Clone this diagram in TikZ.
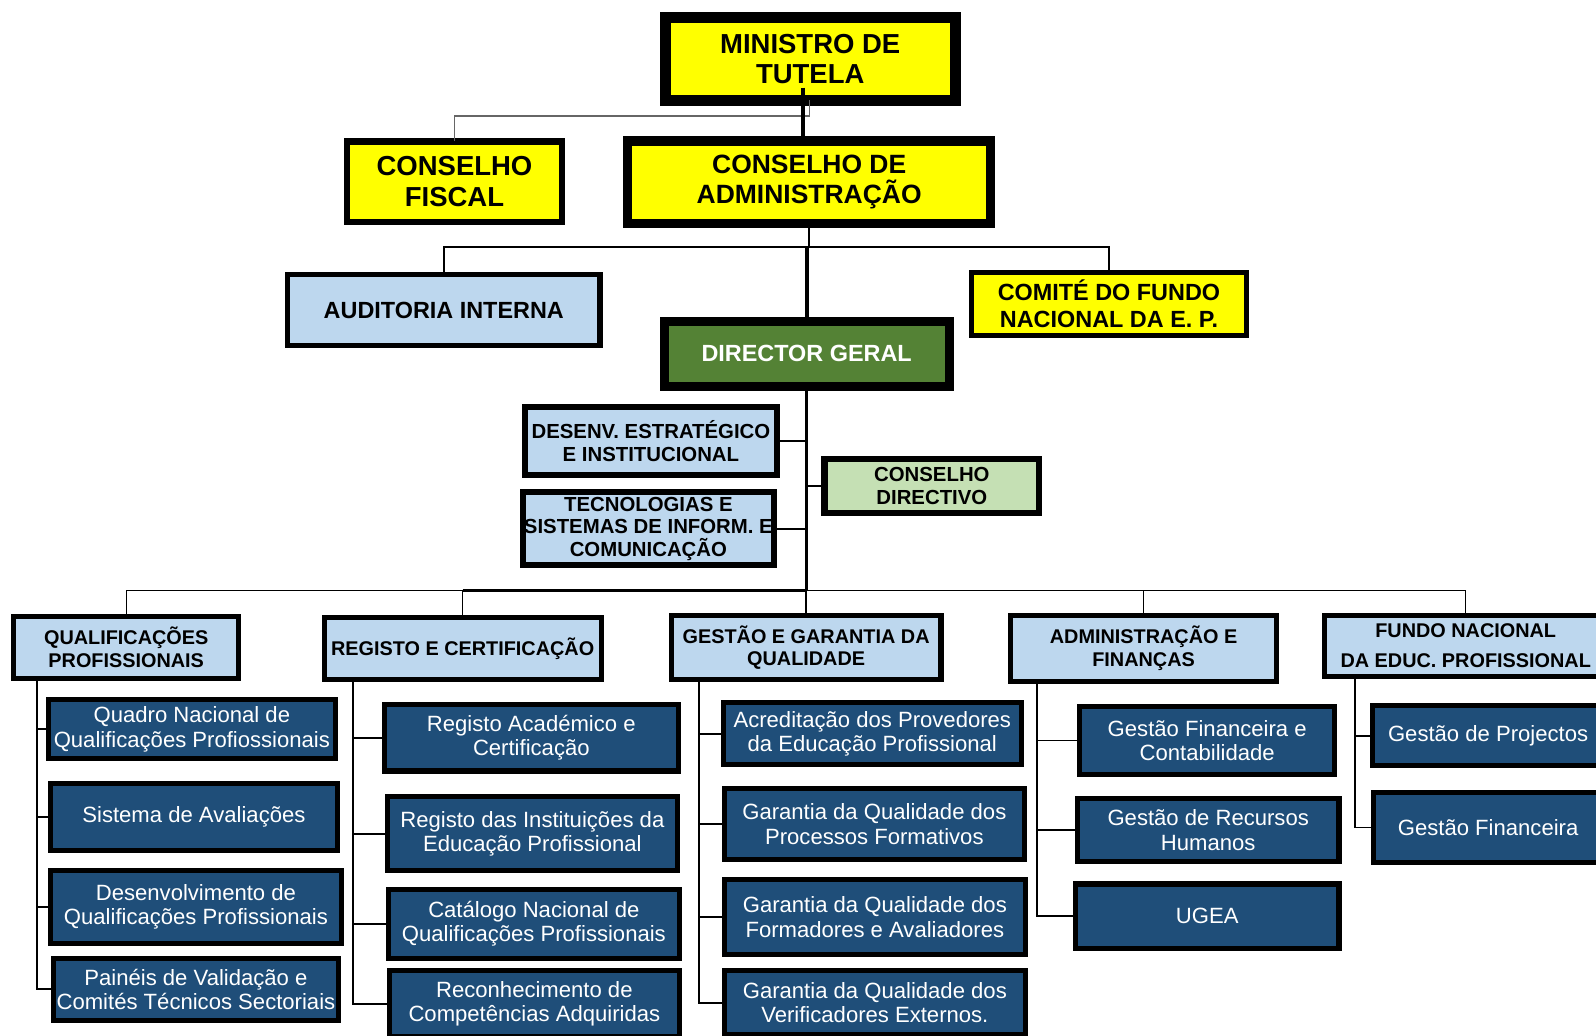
\documentclass[tikz,border=0pt]{standalone}
\usepackage{fontspec}
\setmainfont{Liberation Sans}
\definecolor{cYel}{HTML}{FFFF00}
\definecolor{cLB}{HTML}{BDD7EE}
\definecolor{cDB}{HTML}{1F4E79}
\definecolor{cGr}{HTML}{548235}
\definecolor{cLG}{HTML}{C5E0B4}
\begin{document}
\begin{tikzpicture}[x=1pt,y=-1pt,
  box/.style={draw=black, inner sep=0pt, outer sep=0pt, align=center, text=black},
  yel/.style={box, fill=cYel, font=\bfseries\fontsize{27}{29}\selectfont},
  lb/.style={box, fill=cLB, line width=5pt, font=\bfseries\fontsize{19.5}{22}\selectfont},
  mid/.style={box, fill=cLB, line width=6pt, font=\bfseries\fontsize{20}{22}\selectfont},
  sub/.style={box, fill=cDB, text=white, line width=5pt, font=\fontsize{21.7}{24}\selectfont},
  conn/.style={draw=black, line width=1.8pt},
  thickconn/.style={draw=black, line width=4.5pt}]
\clip (0,0) rectangle (1568,1017);
\fill[white] (0,0) rectangle (1568,1017);

% top level
\node[yel, line width=11pt, minimum width=285pt, minimum height=81pt] (min) at (796,58) {MINISTRO DE\\TUTELA};
\node[yel, line width=6pt, minimum width=211pt, minimum height=79pt, font=\bfseries\fontsize{27}{31}\selectfont] (fiscal) at (446.5,178.5) {CONSELHO\\FISCAL};
\node[yel, line width=9pt, minimum width=357pt, minimum height=81pt, font=\bfseries\fontsize{26}{30}\selectfont] (adm) at (795,179) {CONSELHO DE\\ADMINISTRAÇÃO};
\node[box, fill=cLB, line width=5pt, minimum width=307pt, minimum height=70pt, font=\bfseries\fontsize{23}{26}\selectfont] (audit) at (436,304.5) {AUDITORIA INTERNA};
\node[yel, line width=5pt, minimum width=270pt, minimum height=62pt, font=\bfseries\fontsize{23}{26}\selectfont] (comite) at (1089.5,298.5) {COMITÉ DO FUNDO\\NACIONAL DA E. P.};
\node[box, fill=cGr, text=white, line width=9pt, minimum width=280pt, minimum height=64pt, font=\bfseries\fontsize{23}{26}\selectfont] (dir) at (792.5,347.5) {DIRECTOR GERAL};
\node[mid, minimum width=247pt, minimum height=67pt] (desenv) at (639.5,433.5) {DESENV. ESTRATÉGICO\\E INSTITUCIONAL};
\node[mid, minimum width=246pt, minimum height=72pt] (tecnol) at (637,519.5) {TECNOLOGIAS E\\SISTEMAS DE INFORM. E\\COMUNICAÇÃO};
\node[mid, fill=cLG, minimum width=211pt, minimum height=53pt] (cdir) at (915.5,477.5) {CONSELHO\\DIRECTIVO};

% department headers
\node[lb, minimum width=221pt, minimum height=61pt] (qual) at (124,636) {QUALIFICAÇÕES\\PROFISSIONAIS};
\node[lb, minimum width=272pt, minimum height=61pt] (reg) at (454.5,637) {REGISTO E CERTIFICAÇÃO};
\node[lb, minimum width=265pt, minimum height=63pt] (gest) at (792,636) {GESTÃO E GARANTIA DA\\QUALIDADE};
\node[lb, minimum width=262pt, minimum height=65pt] (admf) at (1123.5,637) {ADMINISTRAÇÃO E\\FINANÇAS};
\node[lb, minimum width=277pt, minimum height=60pt, font=\bfseries\fontsize{19.5}{30}\selectfont] (fundo) at (1440,634.5) {FUNDO NACIONAL\\DA EDUC. PROFISSIONAL};

% sub boxes
\node[sub, minimum width=282pt, minimum height=58pt] (q1) at (188.5,716.5) {Quadro Nacional de\\Qualificações Profiossionais};
\node[sub, minimum width=282pt, minimum height=66pt] (q2) at (190.5,802.5) {Sistema de Avaliações};
\node[sub, minimum width=286pt, minimum height=71pt] (q3) at (192.5,891) {Desenvolvimento de\\Qualificações Profissionais};
\node[sub, minimum width=280pt, minimum height=61pt] (q4) at (192.5,972) {Painéis de Validação e\\Comités Técnicos Sectoriais};

\node[sub, minimum width=289pt, minimum height=65pt] (r1) at (522,725) {Registo Académico e\\Certificação};
\node[sub, minimum width=285pt, minimum height=73pt] (r2) at (523,819) {Registo das Instituições da\\Educação Profissional};
\node[sub, minimum width=286pt, minimum height=68pt] (r3) at (524.5,907.5) {Catálogo Nacional de\\Qualificações Profissionais};
\node[sub, minimum width=285pt, minimum height=65pt] (r4) at (525,986) {Reconhecimento de\\Competências Adquiridas};

\node[sub, minimum width=293pt, minimum height=61pt] (g1) at (857,721) {Acreditação dos Provedores\\da Educação Profissional};
\node[sub, minimum width=295pt, minimum height=70pt] (g2) at (859,809.5) {Garantia da Qualidade dos\\Processos Formativos};
\node[sub, minimum width=296pt, minimum height=73pt] (g3) at (859.5,901) {Garantia da Qualidade dos\\Formadores e Avaliadores};
\node[sub, minimum width=296pt, minimum height=63pt] (g4) at (859.5,985) {Garantia da Qualidade dos\\Verificadores Externos.};

\node[sub, minimum width=251pt, minimum height=66pt] (a1) at (1186,727.5) {Gestão Financeira e\\Contabilidade};
\node[sub, minimum width=257pt, minimum height=62pt] (a2) at (1187,815.5) {Gestão de Recursos\\Humanos};
\node[sub, minimum width=259pt, minimum height=63pt] (a3) at (1186,900) {UGEA};

\node[sub, minimum width=227pt, minimum height=59pt] (f1) at (1462,723) {Gestão de Projectos};
\node[sub, minimum width=225pt, minimum height=69pt] (f2) at (1462,813) {Gestão Financeira};

% helper coordinates
\coordinate (ft) at (795,114);
\coordinate (mt) at (789,86);
\coordinate (ab) at (795,243);
\coordinate (busY) at (0,580);
\coordinate (qa) at (36,669);
\coordinate (ra) at (347,670);
\coordinate (ga) at (687,670);
\coordinate (aa) at (1019,672);
\coordinate (fa) at (1331,667);

% top connectors
\draw[draw=black!60, line width=1.3pt] (fiscal.north) |- (ft) -- (ft |- min.south);
\draw[thickconn] (mt) -- (mt |- adm.north);
\draw[conn] (adm.south) -- (ab);
\draw[conn] (audit.north) |- (ab) -| (comite.north);
\draw[draw=black, line width=4pt] (dir.north |- ab) -- (dir.north);

% director line and staff units
\draw[draw=black, line width=2.4pt] (dir.south) -- (dir.south |- busY);
\draw[conn] (desenv.east) -- (desenv.east -| dir.south);
\draw[conn] (tecnol.east) -- (tecnol.east -| dir.south);
\draw[conn] (cdir.west) -- (cdir.west -| dir.south);

% main bus
\draw[draw=black, line width=1.4pt] (qual.north) -- (qual.north |- busY) -- (fundo.north |- busY) -- (fundo.north);
\draw[draw=black, line width=2.8pt] (reg.north |- busY) -- (dir.south |- busY);
\draw[draw=black, line width=1.4pt] (reg.north) -- (reg.north |- busY);
\draw[draw=black, line width=1.4pt] (gest.north) -- (gest.north |- busY);
\draw[draw=black, line width=1.4pt] (admf.north) -- (admf.north |- busY);

% column connectors
\foreach \b in {q1,q2,q3,q4} \draw[conn] (qa) |- (\b.west);
\foreach \b in {r1,r2,r3,r4} \draw[conn] (ra) |- (\b.west);
\foreach \b in {g1,g2,g3,g4} \draw[conn] (ga) |- (\b.west);
\foreach \b in {a1,a2,a3} \draw[conn] (aa) |- (\b.west);
\foreach \b in {f1,f2} \draw[conn] (fa) |- (\b.west);
\end{tikzpicture}
\end{document}
